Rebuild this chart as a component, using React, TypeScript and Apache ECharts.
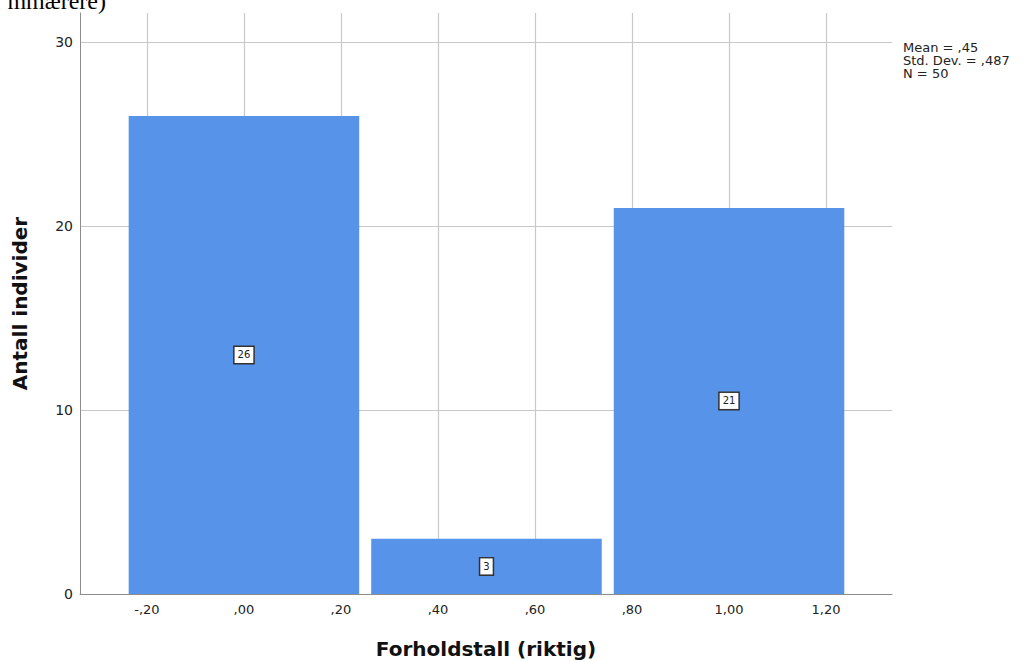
import React, { useEffect, useRef } from "react";
import * as echarts from "echarts";

const binLower = [-0.25, 0.25, 0.75];
const binUpper = [0.25, 0.75, 1.25];
const counts = [26, 3, 21];
const xTicks = [-0.2, 0, 0.2, 0.4, 0.6, 0.8, 1.0, 1.2];
const yTicks = [0, 10, 20, 30];
const statsLines = ["Mean = ,45", "Std. Dev. = ,487", "N = 50"];
const titleFragment = "mmærere)";
const xTitle = "Forholdstall (riktig)";
const yTitle = "Antall individer";

const FONT = "DejaVu Sans";

function spssNum(v: number): string {
  const neg = v < -1e-9;
  let s = Math.abs(v).toFixed(2).replace(".", ",");
  if (s.startsWith("0,")) s = s.slice(1);
  return (neg ? "-" : "") + s;
}

export default function App() {
  const ref = useRef<HTMLDivElement>(null);
  useEffect(() => {
    if (!ref.current) return;
    const chart = echarts.init(ref.current, null, { renderer: "svg" });
    const data = binLower.map((l, i) => [l, binUpper[i], counts[i]]);
    chart.setOption({
      animation: false,
      backgroundColor: "#ffffff",
      grid: { left: 80, right: 134, top: 13, bottom: 67, containLabel: false, outerBoundsMode: "none" },
      xAxis: {
        type: "value",
        min: -0.338,
        max: 1.336,
        name: xTitle,
        nameLocation: "middle",
        nameGap: 45,
        nameTextStyle: { fontSize: 20, fontWeight: "bold", color: "#111", fontFamily: FONT },
        axisLine: { show: true, onZero: false, lineStyle: { color: "#8c8c8c", width: 1 } },
        axisTick: { show: false, customValues: xTicks },
        axisLabel: {
          customValues: xTicks,
          formatter: (v: number) => spssNum(v),
          fontSize: 13,
          color: "#222",
          fontFamily: FONT,
          margin: 9,
        },
        splitLine: { show: true, lineStyle: { color: "#c8c8c8", width: 1.2 } },
      },
      yAxis: {
        type: "value",
        min: 0,
        max: 31.6,
        name: yTitle,
        nameLocation: "middle",
        nameGap: 50,
        nameRotate: 90,
        nameTextStyle: { fontSize: 20, fontWeight: "bold", color: "#111", fontFamily: FONT },
        axisLine: { show: true, onZero: false, lineStyle: { color: "#8c8c8c", width: 1 } },
        axisTick: { show: false, customValues: yTicks },
        axisLabel: {
          customValues: yTicks,
          formatter: (v: number) => String(v),
          fontSize: 14,
          color: "#222",
          fontFamily: FONT,
          margin: 7,
        },
        splitLine: { show: true, lineStyle: { color: "#c8c8c8", width: 1.2 } },
      },
      graphic: [
        {
          type: "text",
          left: 903,
          top: 41,
          style: {
            text: statsLines.join("\n"),
            fontSize: 13,
            lineHeight: 13,
            fontFamily: FONT,
            fill: "#222",
          },
        },
        {
          type: "text",
          x: 106,
          y: 1,
          style: {
            text: titleFragment,
            fontSize: 24,
            fontFamily: "Liberation Serif",
            fill: "#000",
            align: "right",
            verticalAlign: "middle",
          },
        },
      ],
      series: [
        {
          type: "custom",
          data,
          encode: { x: [0, 1], y: 2 },
          renderItem: (params: any, api: any) => {
            const lo = api.value(0);
            const hi = api.value(1);
            const c = api.value(2);
            const p0 = api.coord([lo, 0]);
            const p1 = api.coord([hi, c]);
            const inset = 6;
            const mid = api.coord([(lo + hi) / 2, c / 2]);
            return {
              type: "group",
              children: [
                {
                  type: "rect",
                  shape: {
                    x: p0[0] + inset,
                    y: p1[1],
                    width: p1[0] - p0[0] - 2 * inset,
                    height: p0[1] - p1[1],
                  },
                  style: { fill: "#5794E9" },
                },
                {
                  type: "text",
                  x: mid[0],
                  y: mid[1],
                  style: {
                    text: String(c),
                    fontSize: 10,
                    fontFamily: FONT,
                    fill: "#222",
                    align: "center",
                    verticalAlign: "middle",
                    backgroundColor: "#ffffff",
                    borderColor: "#333",
                    borderWidth: 1.5,
                    padding: [3, 3, 3, 3],
                  },
                },
              ],
            };
          },
        },
      ],
    });
    return () => chart.dispose();
  }, []);
  return (
    <div
      ref={ref}
      style={{ position: "fixed", left: 0, top: 0, width: 1026, height: 661 }}
    />
  );
}
